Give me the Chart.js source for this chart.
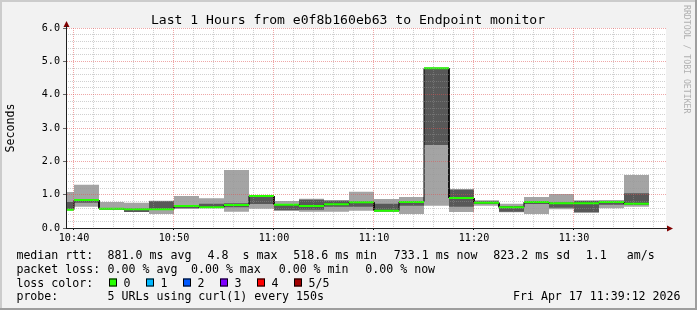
<!DOCTYPE html>
<html><head><meta charset="utf-8">
<script src="https://cdn.jsdelivr.net/npm/chart.js@4/dist/chart.umd.min.js"></script>
<style>html,body{margin:0;padding:0;background:#f2f2f2;overflow:hidden}canvas{display:block}</style>
</head><body>
<canvas id="c" width="697" height="310"></canvas>
<script>
// ---------- data ----------
const titleText = 'Last 1 Hours from e0f8b160eb63 to Endpoint monitor';
const viewStart = '10:39:12';
const viewEnd = '11:39:12';
const stepSeconds = 150;
const slotStarts = ['10:37:30','10:40:00','10:42:30','10:45:00','10:47:30','10:50:00','10:52:30','10:55:00',
  '10:57:30','11:00:00','11:02:30','11:05:00','11:07:30','11:10:00','11:12:30','11:15:00',
  '11:17:30','11:20:00','11:22:30','11:25:00','11:27:30','11:30:00','11:32:30','11:35:00'];
// seconds
const smokeMin  = [0.53,0.64,0.55,0.48,0.42,0.58,0.59,0.49,0.58,0.52,0.49,0.49,0.52,0.49,0.42,0.67,0.48,0.67,0.47,0.42,0.56,0.46,0.59,0.64];
const smokeLow  = [0.55,0.76,0.56,0.48,0.55,0.59,0.60,0.62,0.72,0.53,0.55,0.64,0.64,0.50,0.67,2.49,0.64,0.72,0.49,0.72,0.61,0.47,0.70,0.70];
const medianRtt = [0.55,0.84,0.58,0.56,0.56,0.66,0.62,0.69,0.96,0.70,0.66,0.71,0.77,0.52,0.78,4.79,0.90,0.76,0.62,0.78,0.74,0.74,0.78,0.73];
const smokeHigh = [0.78,0.87,0.60,0.56,0.80,0.68,0.73,0.74,0.97,0.72,0.85,0.82,0.78,0.73,0.80,4.80,1.15,0.80,0.66,0.80,0.76,0.81,0.80,1.04];
const smokeMax  = [1.08,1.30,0.78,0.76,0.82,0.96,0.89,1.74,0.99,0.81,0.88,0.84,1.09,0.87,0.93,4.81,1.17,0.83,0.73,0.93,1.02,0.83,0.84,1.59];
const xTickLabels = ['10:40','10:50','11:00','11:10','11:20','11:30'];
const yTickValues = [0,1,2,3,4,5,6];
const yTickLabels = ['0.0','1.0','2.0','3.0','4.0','5.0','6.0'];
const lossLabels = ['0','1','2','3','4','5/5'];
const lossColors = ['#26ff00','#00b8ff','#0059ff','#7e00ff','#ff0000','#a10000'];
const legendRow1 = [['median rtt:',16.4],['881.0 ms avg',107.6],['4.8  s max',207.6],['518.6 ms min',293.3],['733.1 ms now',393.8],['823.2 ms sd',493.3],['1.1',585.8],['am/s',626.7]];
const legendRow2 = [['packet loss:',16.4],['0.00 % avg',107.6],['0.00 % max',191],['0.00 % min',278.7],['0.00 % now',365.3]];
const lossColorLabel = 'loss color:';
const probeLabel = 'probe:';
const probeText = '5 URLs using curl(1) every 150s';
const dateText = 'Fri Apr 17 11:39:12 2026';
const watermark = 'RRDTOOL / TOBI OETIKER';

// ---------- helpers ----------
const MONO = '"DejaVu Sans Mono", monospace';
const toMin = s => { const p = s.split(':').map(Number); return p[0]*60 + p[1] + (p[2]||0)/60; };
const stepMin = stepSeconds/60;
function stepSeries(vals){
  const pts = [];
  vals.forEach((v,i)=>{ const s = toMin(slotStarts[i]); pts.push({x:s,y:v}); pts.push({x:s+stepMin,y:v}); });
  return pts;
}
function segSeries(vals){
  const pts = [];
  vals.forEach((v,i)=>{ const s = toMin(slotStarts[i]); pts.push({x:s,y:v}); pts.push({x:s+stepMin,y:v}); pts.push({x:s+stepMin,y:null}); });
  return pts;
}
const xMin = toMin(viewStart), xMax = toMin(viewEnd);
const xMinorTicks = [];
for (let t = Math.ceil(xMin/2)*2; t <= xMax; t += 2) if (t % 10 !== 0) xMinorTicks.push(t);
const yMinorTicks = [];
for (let k = 0; k <= 30; k++) if (k % 5 !== 0) yMinorTicks.push(k/5);

const majorGrid = 'rgba(222,79,79,0.5)';
const minorGrid = 'rgba(150,150,150,0.45)';
const axisCol = '#1f1f1f';
const clear = 'rgba(0,0,0,0)';

const rrdPlugin = {
  id: 'rrd',
  beforeDraw(chart){
    const {ctx, width, height, chartArea:a} = chart;
    ctx.save();
    ctx.fillStyle = '#f2f2f2'; ctx.fillRect(0,0,width,height);
    ctx.fillStyle = '#cccccc'; ctx.fillRect(0,0,width,2); ctx.fillRect(0,0,2,height);
    ctx.fillStyle = '#9e9e9e'; ctx.fillRect(0,height-2,width,2); ctx.fillRect(width-2,0,2,height);
    ctx.fillStyle = '#ffffff'; ctx.fillRect(a.left,a.top,a.right-a.left,a.bottom-a.top);
    ctx.restore();
  },
  afterDraw(chart){
    const {ctx, chartArea:a} = chart;
    ctx.save();
    // arrows
    ctx.fillStyle = '#800000';
    const ax = a.left + 0.5;
    ctx.beginPath(); ctx.moveTo(ax-3, a.top-1); ctx.lineTo(ax+3, a.top-1); ctx.lineTo(ax, a.top-7); ctx.closePath(); ctx.fill();
    const ay = a.bottom + 0.5;
    ctx.beginPath(); ctx.moveTo(a.right+1, ay-3); ctx.lineTo(a.right+1, ay+3); ctx.lineTo(a.right+7, ay); ctx.closePath(); ctx.fill();
    ctx.strokeStyle = axisCol; ctx.lineWidth = 1;
    ctx.beginPath(); ctx.moveTo(ax, a.top); ctx.lineTo(ax, a.top-2); ctx.moveTo(a.right, ay); ctx.lineTo(a.right+2, ay); ctx.stroke();
    // title
    ctx.fillStyle = '#000';
    ctx.font = '13.1px ' + MONO;
    ctx.textAlign = 'center'; ctx.textBaseline = 'alphabetic';
    ctx.fillText(titleText, 348, 24);
    // legend
    ctx.font = '11.6px ' + MONO;
    ctx.textAlign = 'left';
    const rowY = [259, 272.5, 286.5, 300];
    legendRow1.forEach(([t,x])=>ctx.fillText(t,x,rowY[0]));
    legendRow2.forEach(([t,x])=>ctx.fillText(t,x,rowY[1]));
    ctx.fillText(lossColorLabel,16.4,rowY[2]);
    lossLabels.forEach((l,i)=>{
      const bx = 109 + i*37;
      ctx.fillStyle = lossColors[i]; ctx.fillRect(bx, rowY[2]-8, 8, 8);
      ctx.strokeStyle = '#000'; ctx.lineWidth = 1; ctx.strokeRect(bx+0.5, rowY[2]-7.5, 7, 7);
      ctx.fillStyle = '#000'; ctx.fillText(l, bx+14.5, rowY[2]);
    });
    ctx.fillText(probeLabel,16.4,rowY[3]);
    ctx.fillText(probeText,107.6,rowY[3]);
    ctx.textAlign = 'right';
    ctx.fillText(dateText,680.5,rowY[3]);
    // watermark
    ctx.save();
    ctx.translate(686.5, 5);
    ctx.rotate(Math.PI/2);
    ctx.font = '8.2px ' + MONO;
    ctx.fillStyle = '#b0b0b0';
    ctx.textAlign = 'left'; ctx.textBaseline = 'middle';
    ctx.fillText(watermark, 0, 0);
    ctx.restore();
    ctx.restore();
  }
};

const common = {pointRadius:0, pointHoverRadius:0, tension:0, spanGaps:false};
new Chart(document.getElementById('c'), {
  type: 'line',
  data: { datasets: [
    {...common, data: stepSeries(smokeMin), borderColor: clear, borderWidth: 1, fill: false, order: 10},
    {...common, data: stepSeries(smokeMax), borderColor: clear, borderWidth: 1, fill: 0, backgroundColor: '#a4a4a4', order: 9},
    {...common, data: stepSeries(smokeLow), borderColor: clear, borderWidth: 1, fill: false, order: 8},
    {...common, data: stepSeries(smokeHigh), borderColor: clear, borderWidth: 1, fill: 2, backgroundColor: '#585858', order: 7},
    {...common, data: stepSeries(medianRtt), borderColor: '#000000', borderWidth: 1, fill: false, order: 6},
    {...common, data: segSeries(medianRtt), borderColor: lossColors[0], borderWidth: 2, fill: false, borderCapStyle: 'butt', order: 5}
  ]},
  options: {
    responsive: false, animation: false, events: [],
    layout: { padding: {top: 28, right: 31, bottom: 0, left: 0} },
    plugins: { legend: {display:false}, tooltip: {enabled:false}, title: {display:false} },
    scales: {
      x: {
        type: 'linear', position: 'bottom', min: xMin, max: xMax, weight: 1,
        afterBuildTicks: s => { s.ticks = xTickLabels.map(l => ({value: toMin(l + ':00')})); },
        afterFit: s => { s.height = 82; },
        ticks: { callback: (v,i) => xTickLabels[i], font: {family: MONO, size: 10.15}, color: '#000', padding: 2.5, maxRotation: 0, autoSkip: false },
        grid: { color: majorGrid, z: 2, tickLength: 2, tickColor: axisCol, tickBorderDash: [] },
        border: { display: true, color: axisCol, width: 1, dash: [1,1], z: 3 }
      },
      xMinor: {
        type: 'linear', position: 'bottom', min: xMin, max: xMax, weight: 0,
        afterBuildTicks: s => { s.ticks = xMinorTicks.map(v => ({value: v})); },
        afterFit: s => { s.height = 0; },
        ticks: { display: false },
        grid: { color: minorGrid, z: 1, drawTicks: false },
        border: { display: false, dash: [1,1] }
      },
      y: {
        type: 'linear', position: 'left', min: 0, max: 6, weight: 1,
        afterBuildTicks: s => { s.ticks = yTickValues.map(v => ({value: v})); },
        afterFit: s => { s.width = 66; },
        ticks: { callback: (v,i) => yTickLabels[i], font: {family: MONO, size: 10.15}, color: '#000', padding: 3 },
        grid: { color: majorGrid, z: 2, tickLength: 3, tickColor: '#666', tickBorderDash: [] },
        border: { display: true, color: axisCol, width: 1, dash: [1,1], z: 3 },
        title: { display: true, text: 'Seconds', font: {family: MONO, size: 11.6}, color: '#000', padding: {top: 4, bottom: 4} }
      },
      yMinor: {
        type: 'linear', position: 'left', min: 0, max: 6, weight: 0,
        afterBuildTicks: s => { s.ticks = yMinorTicks.map(v => ({value: v})); },
        afterFit: s => { s.width = 0; },
        ticks: { display: false },
        grid: { color: minorGrid, z: 1, drawTicks: false },
        border: { display: false, dash: [1,1] }
      }
    }
  },
  plugins: [rrdPlugin]
});
</script>
</body></html>
